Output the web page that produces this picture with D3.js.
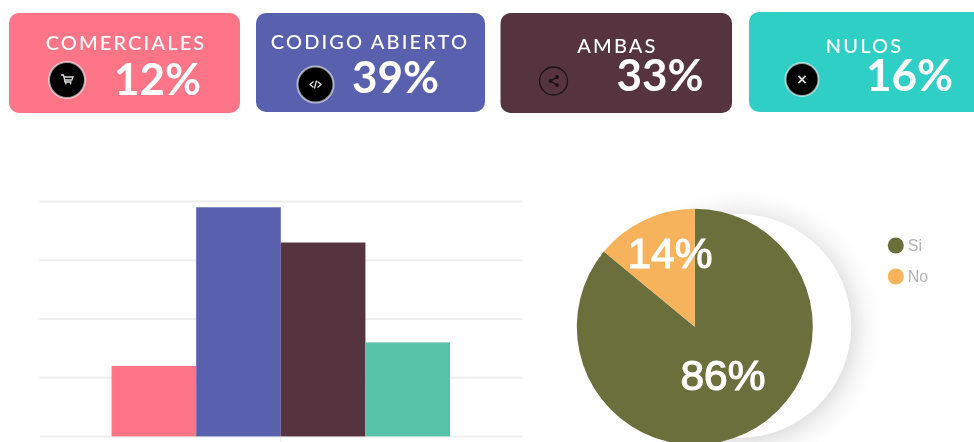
<!DOCTYPE html>
<html><head><meta charset="utf-8">
<script src="https://cdn.jsdelivr.net/npm/d3@7"></script>
<style>html,body{margin:0;padding:0;background:#fff;overflow:hidden}svg{display:block;filter:blur(.4px)}</style>
</head><body><svg id="c" width="974" height="442"></svg>
<script>
// ---- data ----
const categories = ["COMERCIALES","CODIGO ABIERTO","AMBAS","NULOS"];
const percentages = [12,39,33,16];
const cardColors = ["#ff7588","#5961ae","#56343f","#2fcfc6"];
const barColors = ["#ff7588","#5961ae","#56343f","#58c2a8"];
const yTicks = [0,10,20,30,40];
const pieLabels = ["Si","No"];
const pieValues = [86,14];
const pieColors = ["#6b6f3c","#f6b35c"];

// ---- layout (separate from the data) ----
const cardLayout = [
 {x:9,y:13,w:231,h:100,tx:126,ty:50,px:157.5,py:95,ix:67,iy:80,ir:18},
 {x:256,y:13,w:229,h:99,tx:370,ty:49,px:395.5,py:93,ix:315.5,iy:84.5,ir:18},
 {x:500.5,y:13,w:231.5,h:100,tx:617.5,ty:53,px:660,py:91,ix:553.5,iy:81,ir:14},
 {x:749,y:12,w:240,h:100,tx:864.5,ty:53,px:909.5,py:91,ix:802,iy:79.5,ir:16.5}
];
const svg = d3.select("#c");
const defs = svg.append("defs");
const f = defs.append("filter").attr("id","sh").attr("x","-50%").attr("y","-50%").attr("width","200%").attr("height","200%");
f.append("feGaussianBlur").attr("stdDeviation",15);

const UI = "Lato, 'Open Sans', sans-serif";
const cards = svg.selectAll("g.card").data(categories).join("g").attr("class","card");
cards.append("rect")
 .attr("x",(d,i)=>cardLayout[i].x).attr("y",(d,i)=>cardLayout[i].y)
 .attr("width",(d,i)=>cardLayout[i].w).attr("height",(d,i)=>cardLayout[i].h)
 .attr("rx",10).attr("fill",(d,i)=>cardColors[i]);
cards.append("text").text(d=>d)
 .attr("x",(d,i)=>cardLayout[i].tx).attr("y",(d,i)=>cardLayout[i].ty)
 .attr("text-anchor","middle").attr("fill","#fff")
 .style("font",`500 20px ${UI}`).style("letter-spacing","2.15px");
cards.append("text").text((d,i)=>percentages[i]+"%")
 .attr("x",(d,i)=>cardLayout[i].px).attr("y",(d,i)=>cardLayout[i].py)
 .attr("text-anchor","middle").attr("fill","#fff")
 .style("font",`700 44px ${UI}`);

// icons
const iconPaths = [
 "M-6,-5 H-3.5 L-2,2 H4.5 M-3,-3 H6 L4.8,0 H-2.4 M-1.2,2 V4.5 M3.5,2 V4.5",
 "M-2,-3 L-5.5,0 L-2,3 M2,-3 L5.5,0 L2,3 M1,-4 L-1,4",
 "M3.5,-4 L-3,0 L3.5,4",
 "M-3.6,-3.6 L3.6,3.6 M3.6,-3.6 L-3.6,3.6"
];
cards.each(function(d,i){
  const L = cardLayout[i], g = d3.select(this).append("g").attr("transform",`translate(${L.ix},${L.iy})`);
  if(i===2){
    g.append("circle").attr("r",L.ir).attr("fill","none").attr("stroke","#1c1216").attr("stroke-width",1.3);
    g.append("path").attr("d",iconPaths[i]).attr("fill","none").attr("stroke","#1c1216").attr("stroke-width",1.3);
    [[3.5,-4],[-3,0],[3.5,4]].forEach(p=>g.append("circle").attr("cx",p[0]).attr("cy",p[1]).attr("r",1.9).attr("fill","#1c1216"));
  } else {
    g.append("circle").attr("r",L.ir).attr("fill","#000").attr("stroke","rgba(255,255,255,.6)").attr("stroke-width",2);
    g.append("path").attr("d",iconPaths[i]).attr("fill","none").attr("stroke","#ddd").attr("stroke-width",i===3?1.8:1.3);
  }
});

// ---- bars ----
const x = d3.scaleBand().domain(categories).range([39.3,522.3]).paddingInner(0).paddingOuter(0.854);
const y = d3.scaleLinear().domain([0,40]).range([436.4,201.4]);
const grid = svg.append("g").call(d3.axisLeft(y).offset(0).tickValues(yTicks).tickSize(-483).tickFormat(""))
  .attr("transform","translate(39.3,0)");
grid.select(".domain").remove();
grid.selectAll("line").attr("stroke","#eeeeef").attr("stroke-width",2);
svg.append("g").selectAll("line").data([0]).join("line")
  .attr("x1",280.8).attr("x2",280.8).attr("y1",y(0)).attr("y2",442).attr("stroke","#e6e6e8").attr("stroke-width",1);
svg.append("g").selectAll("rect").data(categories).join("rect")
 .attr("x",d=>x(d)).attr("width",x.bandwidth())
 .attr("y",(d,i)=>y(percentages[i])).attr("height",(d,i)=>y(0)-y(percentages[i]))
 .attr("fill",(d,i)=>barColors[i]);

// ---- pie ----
const R = 118, cx = 694.8, cy = 326.8;
const pieG = svg.append("g");
pieG.append("circle").attr("cx",741).attr("cy",329).attr("r",112).attr("fill","#000").attr("opacity",.2).attr("filter","url(#sh)");
pieG.append("circle").attr("cx",739.3).attr("cy",326).attr("r",112).attr("fill","#fff");
const arcs = d3.pie().sort(null)(pieValues);
const arc = d3.arc().innerRadius(0).outerRadius(R);
pieG.append("g").attr("transform",`translate(${cx},${cy})`).selectAll("path").data(arcs).join("path")
 .attr("d",arc).attr("fill",(d,i)=>pieColors[i]);
const pieLabelPos = [[723,390],[670,268]];
svg.append("g").selectAll("text").data(pieValues).join("text")
 .text(d=>d+"%").attr("x",(d,i)=>pieLabelPos[i][0]).attr("y",(d,i)=>pieLabelPos[i][1])
 .attr("text-anchor","middle").attr("fill","#fff").attr("stroke","#fff").attr("stroke-width",1.2)
 .style("font","400 42.5px 'Liberation Sans', Arial, sans-serif");

// legend
const lg = svg.append("g").selectAll("g").data(pieLabels).join("g")
 .attr("transform",(d,i)=>`translate(895.8,${245.5+i*31})`);
lg.append("circle").attr("r",8).attr("fill",(d,i)=>pieColors[i]);
lg.append("text").text(d=>d).attr("x",12).attr("y",5).attr("fill","#b4b4b4")
 .style("font","16px 'Liberation Sans', Arial, sans-serif");
</script></body></html>
